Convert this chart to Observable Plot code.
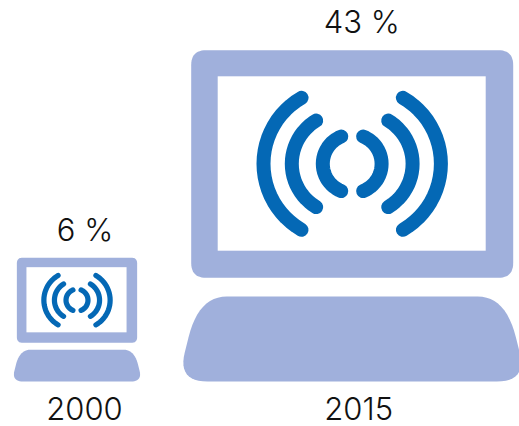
<!DOCTYPE html>
<html>
<head>
<meta charset="utf-8">
<script src="https://cdn.jsdelivr.net/npm/d3@7"></script>
<script src="https://cdn.jsdelivr.net/npm/@observablehq/plot@0.6"></script>
<style>
  html, body { margin: 0; padding: 0; background: #fff; }
  svg { display: block; }
</style>
</head>
<body>
<div id="chart"></div>
<script>
// Chart values
const years = ["2000", "2015"];
const shares = [6, 43];
const shareLabels = ["6 %", "43 %"];

// Layout: where each pictogram sits on the page
const centers = [76.5, 351.7];
const baseline = 45;
const shareDx = [8, 9.5];
const yearDx = [7.5, 6.5];
const lightBlue = "#a0b0dc";
const darkBlue = "#0468b5";
const inkColor = "#111111";

// Pictogram template, in units of the largest icon (origin: bottom centre of the keyboard)
const frameBox = {x: 161, y0: 103.7, y1: 331.3, corner: 15};
const screenBox = {x: 134, y0: 130.3, y1: 304.7};
const keyboardCorners = [
  {x: -174.7, y: 0, d0: 30, d1: 30},
  {x: -153.5, y: 85, d0: 42, d1: 28},
  {x: 153.5, y: 85, d0: 28, d1: 42},
  {x: 174.7, y: 0, d0: 30, d1: 30}
];
const arcCenterY = 217.7;
const arcs = [
  {offset: 12.4, radius: 76.3, reachY: 66},
  {offset: 9.8, radius: 50.6, reachY: 43.3},
  {offset: 0, radius: 29.4, reachY: 27.3}
];
const arcWidth = 14;

function smoothPolygon(corners) {
  const out = [];
  const n = corners.length;
  corners.forEach((c, i) => {
    const prev = corners[(i + n - 1) % n];
    const next = corners[(i + 1) % n];
    const toward = (a, b, d) => {
      const L = Math.hypot(b.x - a.x, b.y - a.y);
      return {x: a.x + (b.x - a.x) * d / L, y: a.y + (b.y - a.y) * d / L};
    };
    const p0 = toward(c, prev, c.d0);
    const p1 = toward(c, next, c.d1);
    for (let k = 0; k <= 12; ++k) {
      const t = k / 12, u = 1 - t;
      out.push({
        x: u * u * p0.x + 2 * u * t * c.x + t * t * p1.x,
        y: u * u * p0.y + 2 * u * t * c.y + t * t * p1.y
      });
    }
  });
  return out;
}

const frameCorners = [[-1, 0], [-1, 1], [1, 1], [1, 0]].map(([sx, top]) => ({
  x: sx * frameBox.x,
  y: top ? frameBox.y1 : frameBox.y0,
  d0: frameBox.corner,
  d1: frameBox.corner
}));

function arcPoints(a, side) {
  const half = Math.asin(a.reachY / a.radius);
  return d3.range(-12, 13).map(k => {
    const th = half * k / 12;
    return {
      x: side * (a.offset + a.radius * Math.cos(th)),
      y: arcCenterY + a.radius * Math.sin(th)
    };
  });
}

const icons = years.map((year, i) => ({
  year,
  share: shares[i],
  cx: centers[i],
  s: Math.sqrt(shares[i] / d3.max(shares))
}));

const place = (icon, p, key) => ({
  key: `${icon.year}-${key}`,
  x: icon.cx + p.x * icon.s,
  y: baseline + p.y * icon.s
});

const solids = icons.flatMap(icon => [
  ...smoothPolygon(frameCorners).map(p => place(icon, p, "frame")),
  ...smoothPolygon(keyboardCorners).map(p => place(icon, p, "keyboard"))
]);

const screens = icons.map(icon => ({
  x1: icon.cx - screenBox.x * icon.s,
  x2: icon.cx + screenBox.x * icon.s,
  y1: baseline + screenBox.y0 * icon.s,
  y2: baseline + screenBox.y1 * icon.s
}));

const signalGroups = icons.map(icon => ({
  icon,
  pts: arcs.flatMap((a, j) => [-1, 1].flatMap(side =>
    arcPoints(a, side).map(p => place(icon, p, `arc${j}${side}`))
  ))
}));

const shareText = icons.map((icon, i) => {
  const frameTop = baseline + frameBox.y1 * icon.s;
  return {
    label: shareLabels[i],
    x: icon.cx + shareDx[i],
    y: frameTop + (i === 0 ? 16.5 : 17)
  };
});
const yearText = icons.map((icon, i) => ({
  label: icon.year,
  x: icon.cx + yearDx[i],
  y: 6.5
}));

const textStyle = {
  fontFamily: "Inter, sans-serif",
  fontSize: 31,
  fontWeight: 300,
  fill: inkColor,
  textAnchor: "middle",
  lineAnchor: "bottom"
};

const chart = Plot.plot({
  width: 519,
  height: 426,
  margin: 0,
  style: {background: "#fff"},
  x: {domain: [0, 519], range: [0, 519], axis: null},
  y: {domain: [0, 426], range: [426, 0], axis: null},
  marks: [
    Plot.line(solids, {x: "x", y: "y", z: "key", fill: lightBlue, stroke: "none", curve: "linear"}),
    Plot.rect(screens, {x1: "x1", x2: "x2", y1: "y1", y2: "y2", fill: "#fff"}),
    ...signalGroups.map(g => Plot.line(g.pts, {
      x: "x", y: "y", z: "key",
      stroke: darkBlue,
      strokeWidth: arcWidth * g.icon.s,
      strokeLinecap: "round",
      curve: "linear"
    })),
    Plot.text(shareText, {x: "x", y: "y", text: "label", ...textStyle}),
    Plot.text(yearText, {x: "x", y: "y", text: "label", ...textStyle})
  ]
});
document.getElementById("chart").append(chart);
</script>
</body>
</html>
